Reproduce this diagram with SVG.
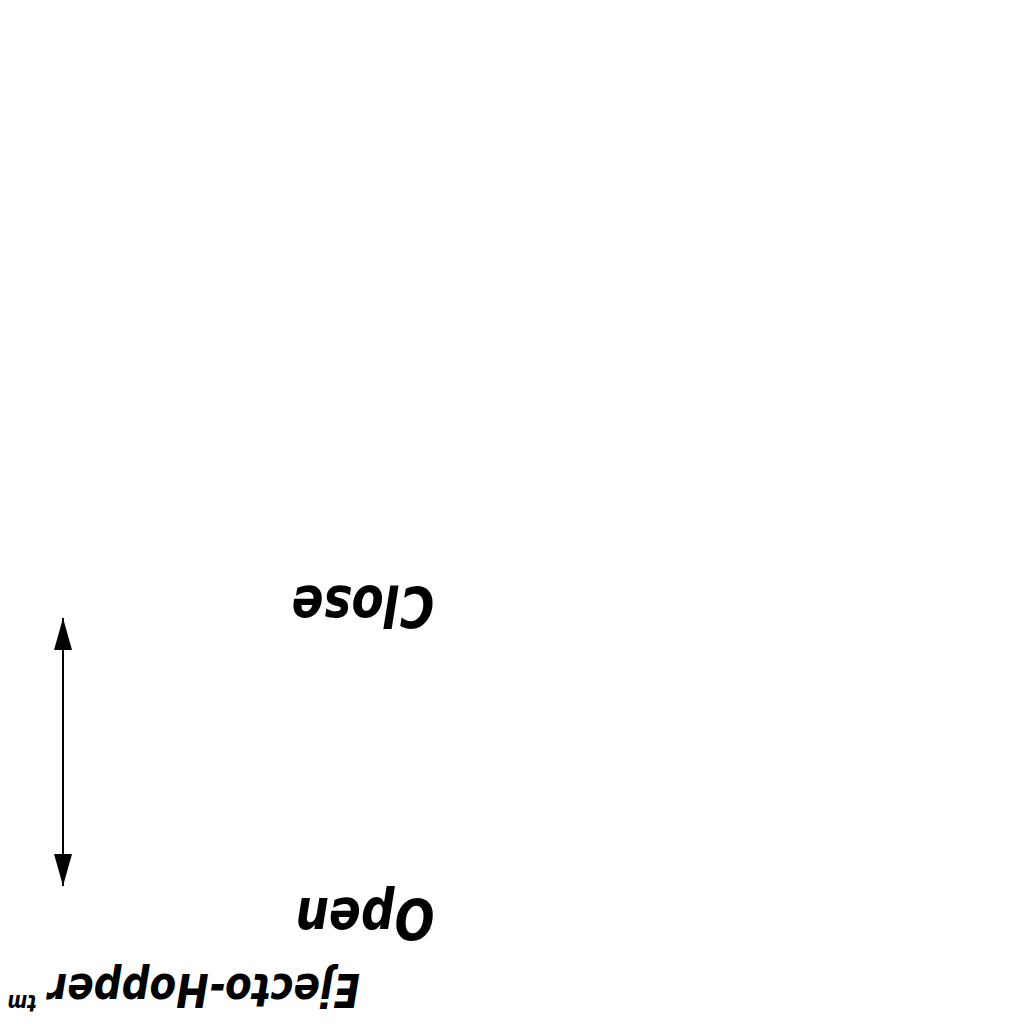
<svg xmlns="http://www.w3.org/2000/svg" width="1024" height="1024" viewBox="0 0 1024 1024">
<style>
.t{font-family:"DejaVu Sans",sans-serif;font-weight:bold;font-style:oblique;fill:#000;text-anchor:middle}
</style>
<defs>
<marker id="ah" markerWidth="32" markerHeight="18" refX="32" refY="9" viewBox="0 0 32 18" markerUnits="userSpaceOnUse" orient="auto-start-reverse">
<path d="M0,0 L32,9 L0,18 Z" fill="#000"/>
</marker>
</defs>
<rect width="1024" height="1024" fill="#fff"/>
<g id="connectors">
<line x1="63" y1="618" x2="63" y2="886" stroke="#000" stroke-width="2" marker-start="url(#ah)" marker-end="url(#ah)"/>
</g>
<g id="close"><text class="t" x="0" y="0" font-size="47" transform="translate(363 586) scale(-1 -1.2)">Close</text></g>
<g id="open"><text class="t" x="0" y="0" font-size="47" transform="translate(365 898) scale(-1 -1.2)">Open</text></g>
<g id="title">
<text class="t" x="0" y="0" font-size="39" transform="translate(204 974) scale(-1 -1.2)">Ejecto-Hopper</text>
<text class="t" x="0" y="0" font-size="19" transform="translate(22 995) scale(-1 -1.2)">tm</text>
</g>
</svg>
